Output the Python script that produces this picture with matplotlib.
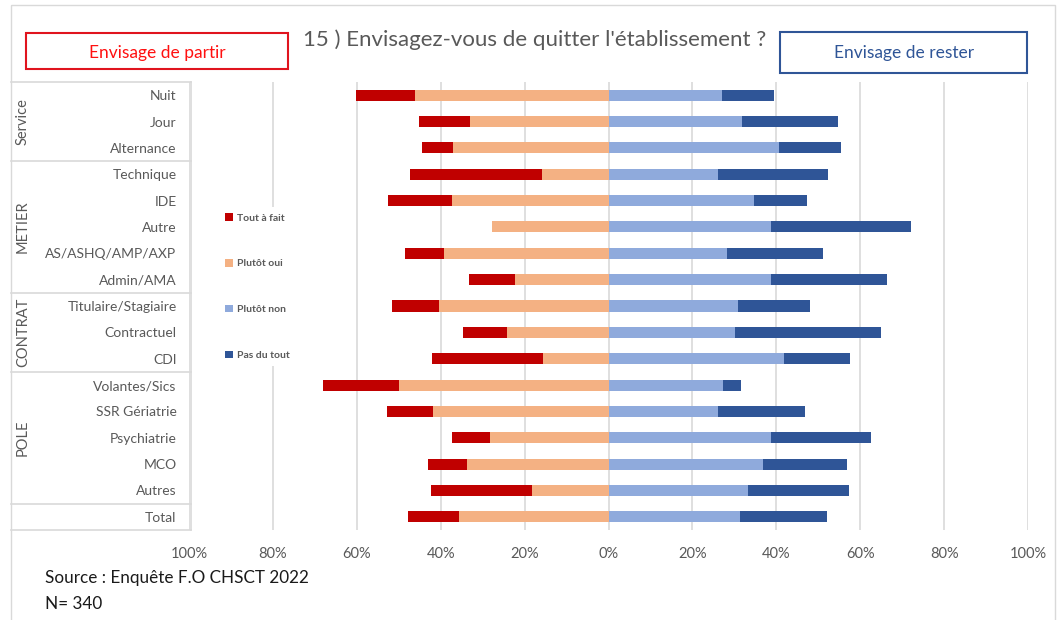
import matplotlib
matplotlib.use("Agg")
import matplotlib.pyplot as plt
import matplotlib.transforms as mtransforms
from matplotlib.patches import Rectangle
import numpy as np

plt.rcParams['font.family'] = ['Liberation Sans Narrow', 'Lato', 'DejaVu Sans']

categories = ["Nuit", "Jour", "Alternance",
              "Technique", "IDE", "Autre", "AS/ASHQ/AMP/AXP", "Admin/AMA",
              "Titulaire/Stagiaire", "Contractuel", "CDI",
              "Volantes/Sics", "SSR Gériatrie", "Psychiatrie", "MCO", "Autres",
              "Total"]
groups = ["Service", "METIER", "CONTRAT", "POLE", ""]
group_sizes = [3, 5, 3, 5, 1]

tout_a_fait = [14.1, 12.2, 7.5, 31.5, 15.2, 0.0, 9.4, 11.1,
               11.3, 10.6, 26.3, 18.2, 11.1, 8.9, 9.2, 24.2, 12.2]
plutot_oui = [46.1, 32.9, 37.0, 15.8, 37.4, 27.8, 39.1, 22.2,
              40.4, 24.2, 15.7, 49.9, 41.8, 28.3, 33.8, 18.2, 35.7]
plutot_non = [27.1, 31.9, 40.7, 26.2, 34.7, 38.7, 28.2, 38.7,
              30.8, 30.1, 41.8, 27.2, 26.0, 38.7, 36.9, 33.2, 31.4]
pas_du_tout = [12.4, 22.7, 14.7, 26.2, 12.5, 33.3, 23.0, 27.8,
               17.3, 34.8, 15.8, 4.4, 20.9, 23.8, 19.9, 24.1, 20.6]

ticks = [-100, -80, -60, -40, -20, 0, 20, 40, 60, 80, 100]

W, H = 1064, 620
fig = plt.figure(figsize=(W / 100, H / 100), dpi=100)

# background layer in pixel coordinates (frame, title, boxes, source)
bg = fig.add_axes([0, 0, 1, 1], zorder=0)
bg.set_xlim(0, W)
bg.set_ylim(H, 0)
bg.axis("off")

gray = "#595959"
bg.add_patch(Rectangle((10.7, 4.7), 1044.3, 640, fill=False, ec="#D9D9D9", lw=1))
bg.text(535, 40, "15 ) Envisagez-vous de quitter l'établissement ?", ha="center",
        va="center", fontsize=16, color=gray)
bg.add_patch(Rectangle((25.7, 33.3), 262.3, 36, fill=False, ec="#E0141E", lw=1.5))
bg.text(157, 53, "Envisage de partir", ha="center", va="center", fontsize=12.5,
        color="#FF1010")
bg.add_patch(Rectangle((780, 31.7), 247.3, 41, fill=False, ec="#2F5597", lw=1.5))
bg.text(904, 53, "Envisage de rester", ha="center", va="center", fontsize=12.5,
        color="#2F5597")
bg.text(45, 578, "Source : Enquête F.O CHSCT 2022", ha="left", va="center",
        fontsize=12.3, color="#1a1a1a")
bg.text(45, 604, "N= 340", ha="left", va="center", fontsize=12.3, color="#1a1a1a")

# main chart
ax = fig.add_axes([189 / W, 90 / H, 839 / W, 448 / H], zorder=1)
ax.patch.set_alpha(0)
y = np.arange(len(categories))
oui = -np.array(plutot_oui)
tout = -np.array(tout_a_fait)

b1 = ax.barh(y, tout, left=oui, height=0.42, color="#C00000", label="Tout à fait", zorder=3)
b2 = ax.barh(y, oui, height=0.42, color="#F4B183", label="Plutôt oui", zorder=3)
b3 = ax.barh(y, plutot_non, height=0.42, color="#8FAADC", label="Plutôt non", zorder=3)
b4 = ax.barh(y, pas_du_tout, left=plutot_non, height=0.42, color="#2F5597",
             label="Pas du tout", zorder=3)

ax.set_xlim(-100, 100)
ax.set_ylim(len(categories) - 0.5, -0.5)
ax.set_xticks(ticks)
ax.set_xticklabels([f"{abs(t)}%" for t in ticks])
ax.xaxis.grid(True, color="#D9D9D9", lw=1.2, zorder=0)
ax.set_axisbelow(True)
for s in ax.spines.values():
    s.set_visible(False)
ax.tick_params(axis="x", length=0, pad=12.5, labelsize=10.5, labelcolor=gray)
ax.set_yticks(y)
ax.set_yticklabels(categories)
ax.tick_params(axis="y", length=0, pad=9, labelsize=10, labelcolor=gray)

# left table with group labels
tr = mtransforms.blended_transform_factory(bg.transData, ax.transData)
x0, x1 = 11, 190.5
start = -0.5
ax.plot([x0, x1], [start, start], transform=tr, color="#D9D9D9", lw=1.2, clip_on=False)
for g, n in zip(groups, group_sizes):
    end = start + n
    ax.plot([x0, x1], [end, end], transform=tr, color="#D9D9D9", lw=1.2, clip_on=False)
    if g:
        ax.text(23, (start + end) / 2, g, transform=tr, rotation=90, ha="center",
                va="center", fontsize=10.5, color=gray)
    start = end
ax.plot([x1, x1], [-0.5, len(categories) - 0.5], transform=tr, color="#D9D9D9",
        lw=1.2, clip_on=False)

leg = ax.legend(handles=[b1, b2, b3, b4], loc="upper left",
                bbox_to_anchor=(214 / W, (H - 202) / H), bbox_transform=fig.transFigure,
                frameon=True, facecolor="white", edgecolor="none", framealpha=1,
                fontsize=7.5, labelspacing=3.5, handlelength=0.7, handleheight=0.7,
                handletextpad=0.4, borderpad=0.6)
for t in leg.get_texts():
    t.set_color(gray)
    t.set_fontweight("bold")

fig.savefig("out.png", dpi=100)
